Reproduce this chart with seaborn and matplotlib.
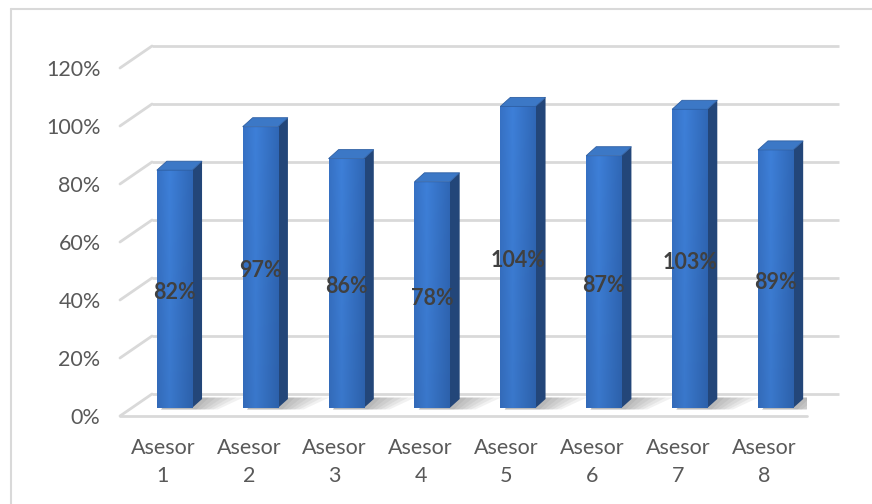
import numpy as np
import pandas as pd
import matplotlib
matplotlib.use("Agg")
import matplotlib.pyplot as plt
import seaborn as sns
from matplotlib.patches import Polygon
from matplotlib.lines import Line2D
from matplotlib.colors import to_rgb

# --- data -------------------------------------------------------------
categories = ["Asesor\n1", "Asesor\n2", "Asesor\n3", "Asesor\n4",
              "Asesor\n5", "Asesor\n6", "Asesor\n7", "Asesor\n8"]
values = [82, 97, 86, 78, 104, 87, 103, 89]
y_ticks = [0, 20, 40, 60, 80, 100, 120]
y_tick_labels = ["0%", "20%", "40%", "60%", "80%", "100%", "120%"]

# --- style ------------------------------------------------------------
W, H = 872, 504
sns.set_style("white")
plt.rcParams["font.family"] = ["Lato", "DejaVu Sans"]

GRID = "#D9D9D9"
TEXT = "#595959"
LABEL = "#404040"
FRONT = "#3A76C8"
SIDE = "#234679"
TOP = "#3C78C6"
FS = 15.5

fig = plt.figure(figsize=(W / 100, H / 100), dpi=100)
# front plane of the 3-D box, in pixels
x_left, x_right, y_floor, y_top = 120, 807, 416, 68
ax = fig.add_axes([x_left / W, (H - y_floor) / H,
                   (x_right - x_left) / W, (y_floor - y_top) / H])

df = pd.DataFrame({"asesor": categories, "valor": values})
sns.barplot(data=df, x="asesor", y="valor", ax=ax, color=FRONT,
            width=0.41, saturation=1, errorbar=None, zorder=4)

n = len(categories)
ax.set_xlim(-0.5, n - 0.5)
ax.set_ylim(0, 120)

# pixel -> data conversion for the oblique depth offsets
px_x = (x_right - x_left) / n
px_y = (y_floor - y_top) / 120.0
wall_dx, wall_dy = 32 / px_x, 22 / px_y      # back wall offset
bar_sx, bar_sy = 11.5 / px_x, 8 / px_y       # bars sit mid-depth on the floor
depth_dx, depth_dy = 10 / px_x, 9 / px_y     # bar thickness

# --- walls and gridlines ---------------------------------------------
for t in y_ticks:
    ax.plot([-0.5 + wall_dx, n - 0.5 + wall_dx], [t + wall_dy] * 2,
            color=GRID, lw=2, clip_on=False, zorder=1, solid_capstyle="butt")
    ax.plot([-0.5, -0.5 + wall_dx], [t, t + wall_dy],
            color=GRID, lw=2, clip_on=False, zorder=1)
ax.plot([-0.5, n - 0.5], [0, 0], color=GRID, lw=2, clip_on=False, zorder=1)

# --- 3-D bars ---------------------------------------------------------
def grad_image(c_left, c_mid, c_right, top_boost=0.06, nx=64, ny=64):
    cl, cm, cr = (np.array(to_rgb(c)) for c in (c_left, c_mid, c_right))
    xs = np.linspace(0, 1, nx)
    row = np.empty((nx, 3))
    for i, s in enumerate(xs):
        if s < 0.35:
            row[i] = cl + (cm - cl) * (s / 0.35)
        else:
            row[i] = cm + (cr - cm) * ((s - 0.35) / 0.65)
    ys = np.linspace(0, 1, ny)[:, None, None]
    img = row[None, :, :] * (0.93 + top_boost * ys + 0.02)
    return np.clip(img, 0, 1)

front_img = grad_image("#3670C2", "#3D7ED6", "#2F66B4")

for patch, v in zip(list(ax.patches), values):
    x0 = patch.get_x() + bar_sx
    w = patch.get_width()
    patch.set_x(x0)
    patch.set_y(bar_sy)
    patch.set_edgecolor("none")
    x1 = x0 + w
    base = bar_sy
    top = bar_sy + patch.get_height()

    # soft floor shadow behind/right of the bar
    for k in range(6):
        grow = (k + 1) * 0.05
        shadow = Polygon([(x0 + 0.05, base - 0.5),
                          (x1 + grow, base - 0.5),
                          (x1 + depth_dx + grow * 1.6, base + depth_dy + 0.5),
                          (x0 + depth_dx + 0.05, base + depth_dy + 0.5)],
                         closed=True, facecolor="#404040", edgecolor="none",
                         alpha=0.07, zorder=2)
        ax.add_patch(shadow)

    # gradient on the front face
    im = ax.imshow(front_img, extent=[x0, x1, base, top], origin="lower",
                   aspect="auto", zorder=4.5, interpolation="bilinear")
    im.set_clip_path(patch)

    side = Polygon([(x1, base), (x1, top), (x1 + depth_dx, top + depth_dy),
                    (x1 + depth_dx, base + depth_dy)],
                   closed=True, facecolor=SIDE, edgecolor="none", zorder=3.9)
    ax.add_patch(side)
    cap = Polygon([(x0, top), (x1, top), (x1 + depth_dx, top + depth_dy),
                   (x0 + depth_dx, top + depth_dy)],
                  closed=True, facecolor=TOP, edgecolor="#2E5FA3", lw=0.6,
                  zorder=4.6)
    ax.add_patch(cap)

    # data label centred on the bar
    ax.text(x0 + w / 2, base + patch.get_height() / 2 - 1.2, f"{v}%",
            ha="center", va="center", fontsize=FS, fontweight="bold",
            color=LABEL, zorder=6)

ax.set_xlim(-0.5, n - 0.5)
ax.set_ylim(0, 120)

# --- axes text --------------------------------------------------------
ax.set_yticks(y_ticks)
ax.set_yticklabels(y_tick_labels)
ax.set_xticks(range(n))
ax.set_xticklabels(categories, linespacing=1.5)
ax.tick_params(axis="y", length=0, pad=14, labelsize=FS, labelcolor=TEXT)
ax.tick_params(axis="x", length=0, pad=16, labelsize=FS, labelcolor=TEXT)
ax.set_xlabel("")
ax.set_ylabel("")
for s in ax.spines.values():
    s.set_visible(False)
ax.set_facecolor("none")

# chart-area frame (left and top edges)
fig.add_artist(Line2D([11 / W, 11 / W], [0, 1 - 9 / H],
                      transform=fig.transFigure, color=GRID, lw=1.5))
fig.add_artist(Line2D([11 / W, 1], [1 - 9 / H, 1 - 9 / H],
                      transform=fig.transFigure, color=GRID, lw=1.5))

fig.savefig("out.png", dpi=100, facecolor="white")
